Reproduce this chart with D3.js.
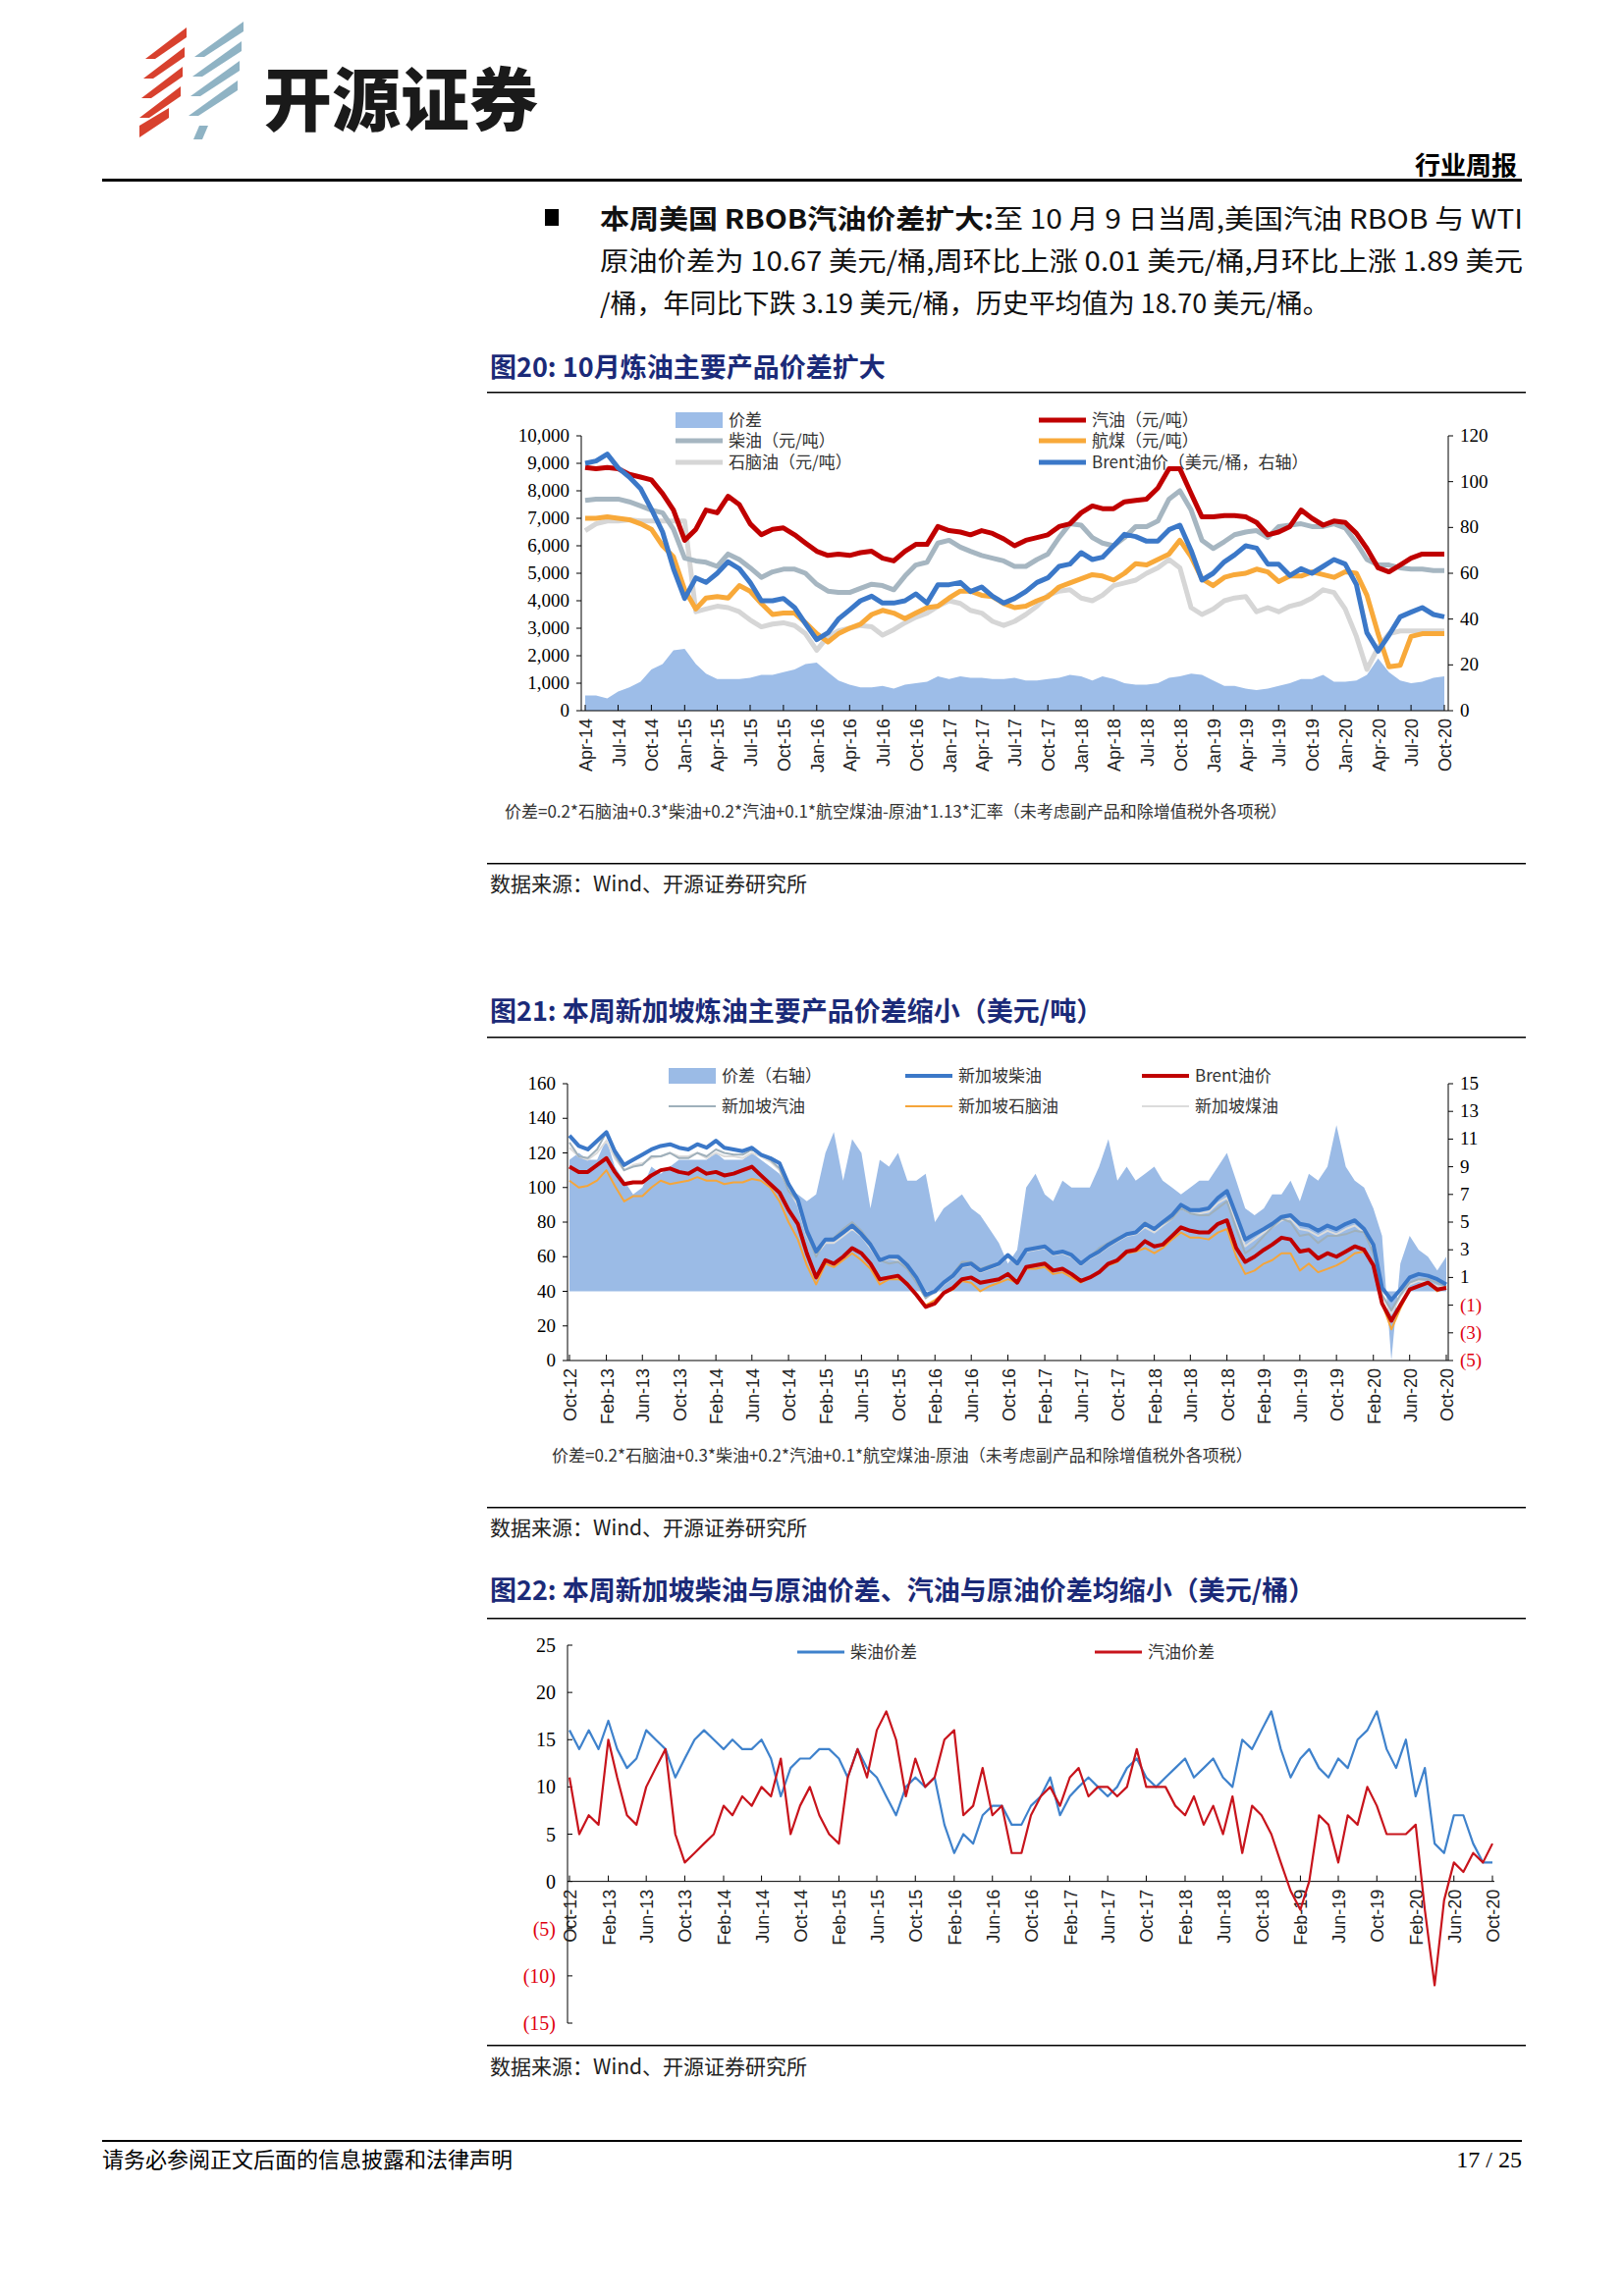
<!DOCTYPE html>
<html><head><meta charset="utf-8">
<script src="https://cdn.jsdelivr.net/npm/d3@7"></script>
<style>body{margin:0;background:#fff}</style></head>
<body><svg id="s" width="1654" height="2339"></svg>
<script>
// ---------- DATA ----------
// Chart 20 (monthly Apr-14 .. Oct-20)
const c1Start = [2014, 3];
const c1Ticks = ["Apr-14","Jul-14","Oct-14","Jan-15","Apr-15","Jul-15","Oct-15","Jan-16","Apr-16","Jul-16","Oct-16","Jan-17","Apr-17","Jul-17","Oct-17","Jan-18","Apr-18","Jul-18","Oct-18","Jan-19","Apr-19","Jul-19","Oct-19","Jan-20","Apr-20","Jul-20","Oct-20"];
const c1Spread = [550,550,450,700,850,1050,1500,1700,2200,2250,1700,1350,1150,1150,1150,1200,1300,1300,1400,1500,1700,1750,1400,1100,950,850,850,900,800,950,1000,1050,1250,1150,1250,1200,1200,1150,1150,1200,1100,1100,1150,1200,1300,1250,1100,1250,1150,1000,950,950,1000,1200,1250,1350,1300,1100,900,900,800,750,800,900,1000,1150,1150,1300,1050,1050,1100,1300,1900,1400,1100,1000,1050,1200,1250];
const c1Gasoline = [8850,8800,8850,8800,8600,8500,8400,7900,7300,6200,6600,7300,7200,7800,7500,6800,6400,6600,6650,6400,6100,5800,5650,5700,5650,5750,5800,5550,5450,5800,6050,6050,6700,6550,6500,6400,6550,6450,6250,6000,6200,6300,6400,6700,6800,7200,7450,7350,7350,7600,7650,7700,8100,8800,8800,7900,7050,7050,7100,7100,7050,6850,6400,6500,6700,7300,7000,6750,6900,6850,6450,5900,5200,5050,5300,5550,5700,5700,5700];
const c1Diesel = [7650,7700,7700,7700,7600,7450,7300,7200,6600,5550,5450,5400,5250,5700,5500,5200,4850,5050,5150,5150,5000,4600,4350,4300,4300,4450,4600,4550,4400,4900,5300,5400,6100,6200,5950,5800,5650,5550,5450,5250,5250,5500,5700,6300,6800,6750,6300,6100,6000,6300,6700,6700,6900,7700,8000,7300,6200,5900,6150,6400,6500,6550,6300,6700,6750,6800,6700,6700,6800,6650,6100,5500,5300,5300,5200,5150,5150,5100,5100];
const c1Jet = [7000,7000,7050,7000,6950,6800,6600,6000,5600,4400,3700,4100,4150,4100,4550,4350,3900,3500,3550,3550,3200,2800,2500,2800,3000,3150,3500,3650,3550,3350,3550,3750,3800,4100,4350,4350,4200,4150,3900,3750,3800,4000,4150,4500,4650,4800,4950,4900,4750,5000,5350,5300,5500,5700,6200,5600,4800,4550,4850,4950,5000,5150,5050,4700,4900,4900,5050,4950,4850,5050,5000,4200,2800,1600,1650,2700,2800,2800,2800];
const c1Naphtha = [6550,6800,6900,6900,6950,6900,6900,6900,6900,6900,3600,3700,3800,3750,3600,3300,3050,3150,3200,3100,2800,2200,2700,2900,3000,3100,3050,2750,2950,3200,3400,3550,3800,4000,3900,3650,3550,3250,3100,3250,3500,3800,4200,4350,4400,4100,4000,4200,4550,4650,4750,5000,5200,5500,5200,3750,3500,3700,4000,4100,4150,3600,3750,3600,3800,3900,4100,4400,4300,3700,2700,1500,2300,2800,2900,2900,2900,2900,2900];
const c1Brent = [108,109,112,106,102,97,88,78,62,49,58,56,60,65,62,56,48,48,49,45,38,31,34,40,44,48,50,47,47,48,51,47,55,55,56,52,54,50,47,49,52,56,58,63,64,69,66,67,72,77,76,74,74,79,81,70,57,60,65,68,72,71,64,64,59,62,60,63,66,64,55,34,26,33,41,43,45,42,41];
const c1LeftTicks = [0,1000,2000,3000,4000,5000,6000,7000,8000,9000,10000];
const c1RightTicks = [0,20,40,60,80,100,120];

// Chart 21 (monthly Oct-12 .. Oct-20)
const c2Ticks = ["Oct-12","Feb-13","Jun-13","Oct-13","Feb-14","Jun-14","Oct-14","Feb-15","Jun-15","Oct-15","Feb-16","Jun-16","Oct-16","Feb-17","Jun-17","Oct-17","Feb-18","Jun-18","Oct-18","Feb-19","Jun-19","Oct-19","Feb-20","Jun-20","Oct-20"];
const c2Spread = [9.5,10,9.5, 9.5,11,9,8,7,7.5,9,8.5,9,9.5,9.5,9.5, 9.5,10,9.5,9.5,9.5,10,9.5,9,8.5,7.5,7,6.5, 7,10,11.5,8,11,10,6,9.5,9,10,8,8, 8.5,5,6,6.5,7,6,5.5,4.5,3.5,2,3,7.5, 8.5,7,6.5,8,7.5,7.5,7.5,9,11,8,9,8, 8.5,9,8,7.5,7,7.5,8,8,9,10,8,6, 5.5,6,7,7,8,6.5,8.5,8,9,12,9,8, 7.5,6,4,-5,2,4,3,2.5,1.5,2.5];
const c2Diesel = [130,124,122, 127,132,121,113,116,119,122,124,125,123,122,125, 123,127,123,122,121,123,119,117,114,102,93,75, 63,70,70,74,78,73,67,58,60,60,55,48, 38,40,45,49,55,56,52,54,56,61,56,64, 65,66,62,63,61,56,60,63,67,70,73,74, 79,76,80,84,90,87,87,88,94,98,84,70, 73,76,79,83,84,79,78,75,78,76,79,81, 76,67,42,35,41,48,50,49,47,44];
const c2Brent = [112,109,109, 113,117,109,102,103,103,107,110,111,109,108,111, 108,109,107,108,110,112,107,102,97,87,79,62, 48,58,56,60,65,62,56,47,48,49,44,38, 31,33,39,42,47,48,45,46,47,50,45,54, 55,56,52,53,50,46,48,51,56,58,63,64, 69,66,67,72,77,75,74,74,79,81,65,57, 60,64,67,71,70,63,64,59,62,60,63,66, 64,55,33,23,32,41,43,45,41,42];
const c2Gasoline = [126,118,117, 122,132,119,110,112,113,118,118,120,117,117,120, 118,122,120,119,119,122,119,116,111,98,92,73, 60,70,71,76,80,75,68,58,56,57,53,45, 36,40,45,50,57,57,53,55,56,61,57,64, 65,66,62,63,61,56,60,65,68,71,73,74, 80,76,79,82,88,85,84,84,88,92,76,62, 66,72,77,82,80,72,73,68,72,72,73,75, 74,62,38,29,38,45,47,47,45,43];
const c2Naphtha = [104,100,101, 104,110,101,92,95,95,100,104,102,103,104,106, 104,104,102,103,103,105,104,100,92,80,70,55, 44,56,54,58,62,58,53,44,47,47,45,38, 32,35,39,41,46,45,40,43,45,47,45,53, 53,54,50,51,48,45,48,51,55,57,62,63, 65,62,65,70,74,71,71,70,74,76,60,50, 52,56,58,62,62,52,56,51,53,55,58,62, 63,55,33,18,30,41,43,45,40,43];
const c2Jet = [123,118,116, 120,127,117,110,113,114,117,118,120,118,118,120, 117,120,118,118,117,120,118,115,110,99,90,72, 61,68,68,72,76,72,65,57,59,58,54,46, 37,39,44,48,54,55,51,53,55,60,55,63, 64,65,61,62,60,55,59,62,66,69,72,73, 77,74,78,82,88,85,85,86,91,94,80,66, 70,74,77,81,82,76,75,72,75,73,76,78, 74,63,38,27,37,44,46,45,43,42];
const c2LeftTicks = [0,20,40,60,80,100,120,140,160];
const c2RightTicks = [-5,-3,-1,1,3,5,7,9,11,13,15];

// Chart 22 (monthly Oct-12 .. Oct-20)
const c3Diesel = [16,14,16, 14,17,14,12,13,16,15,14,11,13,15,16, 15,14,15,14,14,15,13,9,12,13,13,14, 14,13,11,14,12,11,9,7,10,11,10,11, 6,3,5,4,7,8,8,6,6,8,9,11, 7,9,10,11,10,9,10,12,13,11,10,11, 12,13,11,12,13,11,10,15,14,16,18,14, 11,13,14,12,11,13,12,15,16,18,14,12, 15,9,12,4,3,7,7,4,2,2];
const c3Gasoline = [11,5,7, 6,15,11,7,6,10,12,14,5,2,3,4, 5,8,7,9,8,10,9,13,5,8,10,7, 5,4,11,14,11,16,18,15,9,13,10,11, 15,16,7,8,12,7,8,3,3,7,9,10, 8,11,12,9,10,10,9,10,14,10,10,10, 8,7,9,6,8,5,9,3,8,7,5,2, -1,-3,0,7,6,2,7,6,10,8,5,5, 5,6,-3,-11,-2,2,1,3,2,4];
const c3Ticks = [-15,-10,-5,0,5,10,15,20,25];

// ---------- DRAW ----------
const svg = d3.select("#s");
const SERIF = "'Liberation Serif','Times New Roman',serif";
const CJK = "'Noto Sans CJK SC','Liberation Serif',serif";
const NAVY = "#1b2a78";
function fmtNeg(v){return v<0?"("+Math.abs(v)+")":String(v);}

// Logo
const lg = svg.append("g");
[[0,"#d8412e"],[1,"#d8412e"],[2,"#d8412e"],[3,"#d8412e"]].forEach(([i,c])=>{
  lg.append("path").attr("d",`M${142+i*2},${120-i*20} l10,0 l32,-22 l0,-10 z`).attr("fill",c);
});
[0,1,2,3].forEach(i=>{
  lg.append("path").attr("d",`M${192+i*2},${118-i*20} l10,0 l40,-26 l0,-10 z`).attr("fill","#8fb3c4");
});
lg.append("path").attr("d","M142,140 L142,128 L172,110 L172,120 Z").attr("fill","#d8412e");
lg.append("path").attr("d","M197,142 L206,142 L212,128 L203,128 Z").attr("fill","#8fb3c4");
svg.append("text").attr("x",268).attr("y",128).attr("font-family",CJK).attr("font-weight",900).attr("font-size",70).attr("fill","#1a1a1a").text("开源证券");
svg.append("text").attr("x",1545).attr("y",178).attr("text-anchor","end").attr("font-family",CJK).attr("font-weight",700).attr("font-size",26).text("行业周报");
svg.append("rect").attr("x",104).attr("y",182).attr("width",1446).attr("height",3).attr("fill","#000");

// paragraph
svg.append("rect").attr("x",555).attr("y",213).attr("width",14).attr("height",17).attr("fill","#000");
const para = [
  [{t:"本周美国 RBOB汽油价差扩大:",b:1},{t:"至 10 月 9 日当周,美国汽油 RBOB 与 WTI"}],
  [{t:"原油价差为 10.67 美元/桶,周环比上涨 0.01 美元/桶,月环比上涨 1.89 美元"}],
  [{t:"/桶，年同比下跌 3.19 美元/桶，历史平均值为 18.70 美元/桶。"}]
];
para.forEach((ln,i)=>{
  const t = svg.append("text").attr("x",611).attr("y",233+i*43).attr("font-family",CJK).attr("font-size",27).attr("fill","#111");
  if(i<2) t.attr("textLength",940).attr("lengthAdjust","spacingAndGlyphs");
  ln.forEach(s=>t.append("tspan").attr("font-weight",s.b?700:400).text(s.t));
});

function title(y,num,txt){
  const t = svg.append("text").attr("x",499).attr("y",y).attr("font-family",CJK).attr("font-weight",700).attr("font-size",27).attr("fill",NAVY);
  t.append("tspan").text(num+"  ");
  t.append("tspan").text(txt);
}
function hline(y,w){svg.append("rect").attr("x",496).attr("y",y).attr("width",1058).attr("height",w||1.5).attr("fill","#000");}
function source(y){svg.append("text").attr("x",499).attr("y",y).attr("font-family",CJK).attr("font-size",21).attr("fill","#222").text("数据来源：Wind、开源证券研究所");}
function note(x,y,txt){svg.append("text").attr("x",x).attr("y",y).attr("font-family",CJK).attr("font-size",17).attr("fill","#333").text(txt);}

function monthDate(y0,m0,i){return new Date(y0,m0+i,1);}
function parseTick(s){const mm={Jan:0,Feb:1,Mar:2,Apr:3,May:4,Jun:5,Jul:6,Aug:7,Sep:8,Oct:9,Nov:10,Dec:11};return new Date(2000+ +s.slice(4),mm[s.slice(0,3)],1);}

function xAxisLabels(g,x,ticks,y,fs){
  ticks.forEach(s=>{
    const px = x(parseTick(s));
    g.append("line").attr("x1",px).attr("x2",px).attr("y1",y).attr("y2",y-6).attr("stroke","#000");
    g.append("text").attr("transform",`translate(${px+7},${y+8}) rotate(-90)`).attr("text-anchor","end").attr("font-family","'Liberation Sans',Arial,sans-serif").attr("font-size",fs).attr("fill","#222").text(s);
  });
}
function legend(g,x,y,kind,color,txt,w){
  if(kind==="area") g.append("rect").attr("x",x).attr("y",y-8).attr("width",48).attr("height",16).attr("fill",color);
  else g.append("line").attr("x1",x).attr("x2",x+48).attr("y1",y).attr("y2",y).attr("stroke",color).attr("stroke-width",w);
  g.append("text").attr("x",x+54).attr("y",y+6).attr("font-family",CJK).attr("font-size",17).attr("fill","#333").text(txt);
}

// ---------- Chart 20 ----------
title(384,"图20:","10月炼油主要产品价差扩大");
hline(399);
{
  const g = svg.append("g");
  const L=592,R=1475,T=444,B=724;
  const n=c1Gasoline.length;
  const x = d3.scaleTime().domain([monthDate(2014,3,0),monthDate(2014,3,n-1)]).range([L+4,R-4]);
  const y = d3.scaleLinear().domain([0,10000]).range([B,T]);
  const y2 = d3.scaleLinear().domain([0,120]).range([B,T]);
  const d = i=>monthDate(2014,3,i);
  g.append("path").datum(c1Spread).attr("fill","#9dbde8").attr("d",d3.area().x((v,i)=>x(d(i))).y0(B).y1(v=>y(v)));
  const ln=(arr,c,w,sc)=>g.append("path").datum(arr).attr("fill","none").attr("stroke",c).attr("stroke-width",w).attr("stroke-linejoin","round").attr("d",d3.line().x((v,i)=>x(d(i))).y(v=>(sc||y)(v)));
  ln(c1Naphtha,"#d6d6d6",5);
  ln(c1Diesel,"#a6b6c1",5);
  ln(c1Jet,"#f8a93a",5);
  ln(c1Gasoline,"#c00000",5);
  ln(c1Brent,"#3b78c8",5,y2);
  g.append("line").attr("x1",L).attr("x2",L).attr("y1",T).attr("y2",B).attr("stroke","#000");
  g.append("line").attr("x1",R).attr("x2",R).attr("y1",T).attr("y2",B).attr("stroke","#000");
  g.append("line").attr("x1",L).attr("x2",R).attr("y1",B).attr("y2",B).attr("stroke","#000");
  c1LeftTicks.forEach(v=>{g.append("line").attr("x1",L-5).attr("x2",L).attr("y1",y(v)).attr("y2",y(v)).attr("stroke","#000");
    g.append("text").attr("x",L-12).attr("y",y(v)+6).attr("text-anchor","end").attr("font-family",SERIF).attr("font-size",19).text(d3.format(",")(v));});
  c1RightTicks.forEach(v=>{g.append("line").attr("x1",R).attr("x2",R+5).attr("y1",y2(v)).attr("y2",y2(v)).attr("stroke","#000");
    g.append("text").attr("x",R+12).attr("y",y2(v)+6).attr("font-family",SERIF).attr("font-size",19).text(v);});
  xAxisLabels(g,x,c1Ticks,B,18);
  legend(g,688,428,"area","#9dbde8","价差");
  legend(g,688,449,"line","#a6b6c1","柴油（元/吨）",5);
  legend(g,688,471,"line","#d6d6d6","石脑油（元/吨）",5);
  legend(g,1058,428,"line","#c00000","汽油（元/吨）",5);
  legend(g,1058,449,"line","#f8a93a","航煤（元/吨）",5);
  legend(g,1058,471,"line","#3b78c8","Brent油价（美元/桶，右轴）",5);
}
note(514,833,"价差=0.2*石脑油+0.3*柴油+0.2*汽油+0.1*航空煤油-原油*1.13*汇率（未考虑副产品和除增值税外各项税）");
hline(879);
source(908);

// ---------- Chart 21 ----------
title(1040,"图21:","本周新加坡炼油主要产品价差缩小（美元/吨）");
hline(1056);
{
  const g = svg.append("g");
  const L=578,R=1475,T=1104,B=1386;
  const n=c2Brent.length;
  const d = i=>monthDate(2012,9,i);
  const x = d3.scaleTime().domain([d(0),d(n-1)]).range([L+2,R-2]);
  const y = d3.scaleLinear().domain([0,160]).range([B,T]);
  const y2 = d3.scaleLinear().domain([-5,15]).range([B,T]);
  g.append("path").datum(c2Spread).attr("fill","#9bbbe6").attr("d",d3.area().x((v,i)=>x(d(i))).y0(y2(0)).y1(v=>y2(v)));
  const ln=(arr,c,w)=>g.append("path").datum(arr).attr("fill","none").attr("stroke",c).attr("stroke-width",w).attr("stroke-linejoin","round").attr("d",d3.line().x((v,i)=>x(d(i))).y(v=>y(v)));
  ln(c2Jet,"#dcdcdc",2);
  ln(c2Naphtha,"#f5a53a",2);
  ln(c2Gasoline,"#9fb0bb",2);
  ln(c2Diesel,"#3b78c8",4);
  ln(c2Brent,"#c00000",4);
  g.append("line").attr("x1",L).attr("x2",L).attr("y1",T).attr("y2",B).attr("stroke","#000");
  g.append("line").attr("x1",R).attr("x2",R).attr("y1",T).attr("y2",B).attr("stroke","#000");
  g.append("line").attr("x1",L).attr("x2",R).attr("y1",B).attr("y2",B).attr("stroke","#000");
  c2LeftTicks.forEach(v=>{g.append("line").attr("x1",L-5).attr("x2",L).attr("y1",y(v)).attr("y2",y(v)).attr("stroke","#000");
    g.append("text").attr("x",L-12).attr("y",y(v)+6).attr("text-anchor","end").attr("font-family",SERIF).attr("font-size",19).text(v);});
  c2RightTicks.forEach(v=>{g.append("line").attr("x1",R).attr("x2",R+5).attr("y1",y2(v)).attr("y2",y2(v)).attr("stroke","#000");
    g.append("text").attr("x",R+12).attr("y",y2(v)+6).attr("font-family",SERIF).attr("font-size",19).attr("fill",v<0?"#e0000f":"#000").text(fmtNeg(v));});
  xAxisLabels(g,x,c2Ticks,B,18);
  legend(g,681,1096,"area","#9bbbe6","价差（右轴）");
  legend(g,922,1096,"line","#3b78c8","新加坡柴油",4);
  legend(g,1163,1096,"line","#c00000","Brent油价",4);
  legend(g,681,1127,"line","#9fb0bb","新加坡汽油",2);
  legend(g,922,1127,"line","#f5a53a","新加坡石脑油",2);
  legend(g,1163,1127,"line","#dcdcdc","新加坡煤油",2);
}
note(562,1489,"价差=0.2*石脑油+0.3*柴油+0.2*汽油+0.1*航空煤油-原油（未考虑副产品和除增值税外各项税）");
hline(1535);
source(1564);

// ---------- Chart 22 ----------
title(1630,"图22:","本周新加坡柴油与原油价差、汽油与原油价差均缩小（美元/桶）");
hline(1648);
{
  const g = svg.append("g");
  const L=578,R=1522,T=1676,B=2061;
  const n=c3Diesel.length;
  const d = i=>monthDate(2012,9,i);
  const x = d3.scaleTime().domain([d(0),d(n-1)]).range([L+2,R-2]);
  const y = d3.scaleLinear().domain([-15,25]).range([B,T]);
  g.append("line").attr("x1",L).attr("x2",L).attr("y1",T).attr("y2",B).attr("stroke","#000");
  c3Ticks.forEach(v=>{g.append("line").attr("x1",L).attr("x2",L+5).attr("y1",y(v)).attr("y2",y(v)).attr("stroke","#000");
    g.append("text").attr("x",L-12).attr("y",y(v)+7).attr("text-anchor","end").attr("font-family",SERIF).attr("font-size",20).attr("fill",v<0?"#e0000f":"#000").text(fmtNeg(v));});
  xAxisLabels(g,x,c2Ticks,y(0),18);
  g.append("line").attr("x1",L).attr("x2",R).attr("y1",y(0)).attr("y2",y(0)).attr("stroke","#000");
  const ln=(arr,c)=>g.append("path").datum(arr).attr("fill","none").attr("stroke",c).attr("stroke-width",2.2).attr("stroke-linejoin","round").attr("d",d3.line().x((v,i)=>x(d(i))).y(v=>y(v)));
  ln(c3Diesel,"#3f82cc");
  ln(c3Gasoline,"#c8141c");
  legend(g,812,1683,"line","#3f82cc","柴油价差",3);
  legend(g,1115,1683,"line","#c8141c","汽油价差",3);
}
hline(2083);
source(2113);

// footer
svg.append("rect").attr("x",104).attr("y",2180).attr("width",1446).attr("height",2).attr("fill","#000");
svg.append("text").attr("x",104).attr("y",2208).attr("font-family",CJK).attr("font-size",22).text("请务必参阅正文后面的信息披露和法律声明");
svg.append("text").attr("x",1550).attr("y",2208).attr("text-anchor","end").attr("font-family",SERIF).attr("font-size",24).text("17 / 25");
</script></body></html>
